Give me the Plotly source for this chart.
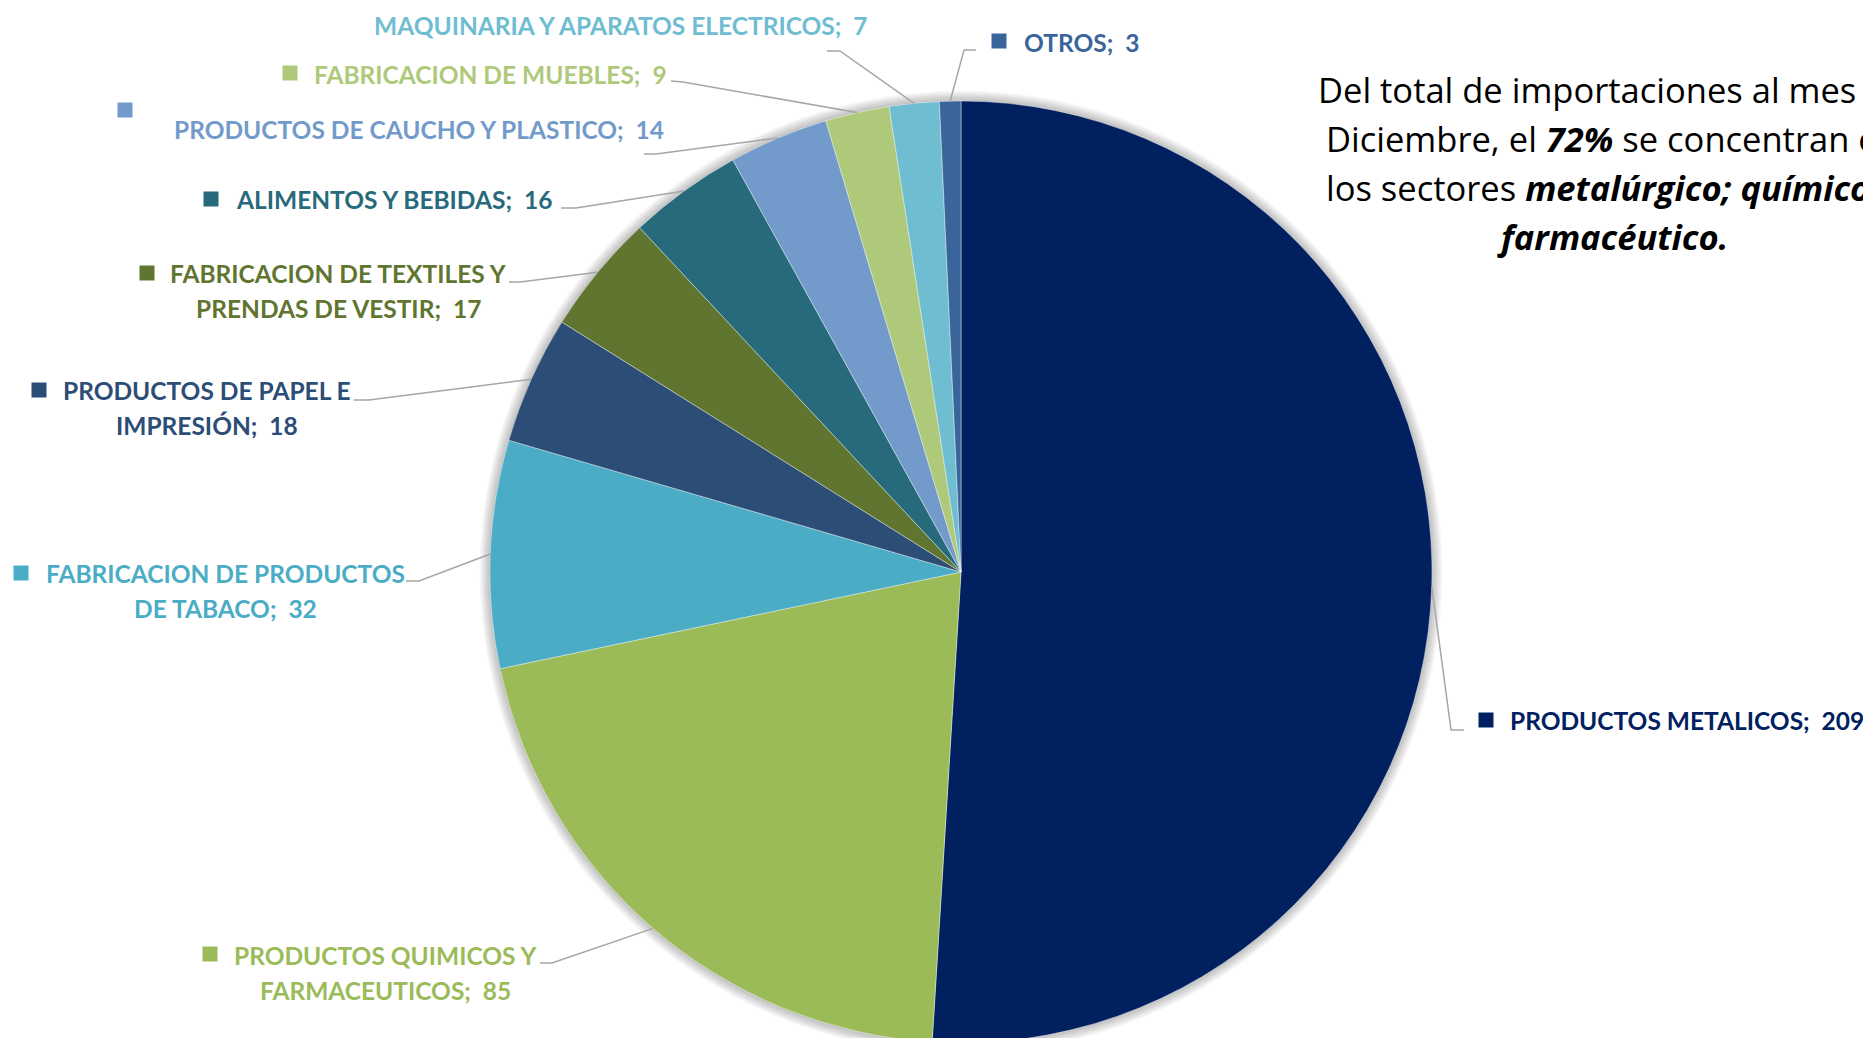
import math
import plotly.graph_objects as go

# ---------------- data ----------------
categories = [
    "PRODUCTOS METALICOS",
    "PRODUCTOS QUIMICOS Y FARMACEUTICOS",
    "FABRICACION DE PRODUCTOS DE TABACO",
    "PRODUCTOS DE PAPEL E IMPRESIÓN",
    "FABRICACION DE TEXTILES Y PRENDAS DE VESTIR",
    "ALIMENTOS Y BEBIDAS",
    "PRODUCTOS DE CAUCHO Y PLASTICO",
    "FABRICACION DE MUEBLES",
    "MAQUINARIA Y APARATOS ELECTRICOS",
    "OTROS",
]
values = [209, 85, 32, 18, 17, 16, 14, 9, 7, 3]
# label text as wrapped in the chart
label_names = [
    "PRODUCTOS METALICOS",
    "PRODUCTOS QUIMICOS Y<br>FARMACEUTICOS",
    "FABRICACION DE PRODUCTOS<br>DE TABACO",
    "PRODUCTOS DE PAPEL E<br>IMPRESIÓN",
    "FABRICACION DE TEXTILES Y<br>PRENDAS DE VESTIR",
    "ALIMENTOS Y BEBIDAS",
    "PRODUCTOS DE CAUCHO Y PLASTICO",
    "FABRICACION DE MUEBLES",
    "MAQUINARIA Y APARATOS ELECTRICOS",
    "OTROS",
]
colors = ["#002060", "#9BBB59", "#4BACC6", "#2C4D75", "#5F7530",
          "#276A7C", "#729ACA", "#AFC97A", "#6FBDD1", "#3A659B"]

# ---------------- layout constants ----------------
W, H = 1871, 1038
OFF = 8                     # page body margin
CX, CY, R = 961, 572, 471
LINE_GAP = 35.5
LABEL_FONT = "Lato"
LABEL_SIZE = 24.5

label_layout = [
    dict(x=1508, anchor="left", y=720, sq=(1486, 720), lead=[(1464, 730), (1451, 730)]),
    dict(x=385, anchor="center", y=955, sq=(210, 954), lead=[(540, 963), (552, 963)]),
    dict(x=225, anchor="center", y=573, sq=(21, 573), lead=[(406, 581), (419, 581)]),
    dict(x=207, anchor="center", y=390, sq=(39, 390), lead=[(354, 400), (369, 400)]),
    dict(x=338, anchor="center", y=273, sq=(147, 273), lead=[(509, 282), (520, 282)]),
    dict(x=234, anchor="left", y=199, sq=(211, 199), lead=[(561, 208), (576, 208)]),
    dict(x=172, anchor="left", y=129, sq=(125, 110), lead=[(644, 154), (656, 154)]),
    dict(x=312, anchor="left", y=74, sq=(290, 73), lead=[(671, 81), (683, 82)]),
    dict(x=372, anchor="left", y=25, sq=None, lead=[(827, 51), (840, 51)]),
    dict(x=1022, anchor="left", y=43, sq=(999, 41), lead=[(976, 50), (964, 50)]),
]


def px(x):
    return (x - OFF) / W


def py(y):
    return 1 - (y - OFF) / H


total = sum(values)
pct_top2 = round((values[0] + values[1]) / total * 100)

fig = go.Figure()
fig.add_trace(go.Pie(
    labels=categories,
    values=values,
    sort=False,
    direction="clockwise",
    rotation=0,
    marker=dict(colors=colors, line=dict(color="rgba(255,255,255,0.5)", width=0.8)),
    textinfo="none",
    hoverinfo="label+value",
    showlegend=False,
    domain=dict(x=[px(CX - R), px(CX + R)], y=[py(CY + R), py(CY - R)]),
))

shapes = []
annotations = []

# soft shadow around the pie
for k in range(1, 9):
    rr = R + k * 1.3
    shapes.append(dict(type="circle", xref="paper", yref="paper", layer="below",
                       x0=px(CX - rr), x1=px(CX + rr), y0=py(CY + rr), y1=py(CY - rr),
                       fillcolor="rgba(0,0,0,0.03)", line=dict(width=0)))

cum = 0
for i, (name, val, col, lay) in enumerate(zip(label_names, values, colors, label_layout)):
    mid = (cum + val / 2) / total
    cum += val
    theta = 2 * math.pi * mid
    ex = CX + R * math.sin(theta)
    ey = CY - R * math.cos(theta)
    pts = lay["lead"] + [(ex, ey)]
    path = "M " + " L ".join(f"{px(a):.5f},{py(b):.5f}" for a, b in pts)
    shapes.append(dict(type="path", xref="paper", yref="paper", path=path,
                       line=dict(color="#A6A6A6", width=1.5)))
    if lay["sq"] is not None:
        sx, sy = lay["sq"]
        shapes.append(dict(type="rect", xref="paper", yref="paper",
                           x0=px(sx - 7.5), x1=px(sx + 7.5), y0=py(sy + 7.5), y1=py(sy - 7.5),
                           fillcolor=col, line=dict(width=0)))
    text = f"{name};\u00a0 {val}"
    for j, line in enumerate(text.split("<br>")):
        annotations.append(dict(
            x=px(lay["x"]), y=py(lay["y"] + j * LINE_GAP), xref="paper", yref="paper",
            xanchor=lay["anchor"], yanchor="middle", showarrow=False,
            text=f"<b>{line}</b>",
            font=dict(family=LABEL_FONT, size=LABEL_SIZE, color=col)))

# commentary text at top right (runs off the right edge as in the source)
note_lines = [
    "Del total de importaciones al mes de",
    f"Diciembre, el <b><i>{pct_top2}%</i></b> se concentran en",
    "los sectores <b><i>metalúrgico; químico y</i></b>",
    "<b><i>farmacéutico.</i></b>",
]
note_y = [89, 138, 187, 236]
for line, yy in zip(note_lines, note_y):
    annotations.append(dict(
        x=px(1612), y=py(yy), xref="paper", yref="paper",
        xanchor="center", yanchor="middle", showarrow=False, text=line,
        font=dict(family="Open Sans", size=34.5, color="#000000")))

fig.update_layout(
    width=W, height=H,
    margin=dict(l=0, r=0, t=0, b=0),
    paper_bgcolor="white", plot_bgcolor="white",
    showlegend=False,
    shapes=shapes,
    annotations=annotations,
)

fig.write_html("out.html")
